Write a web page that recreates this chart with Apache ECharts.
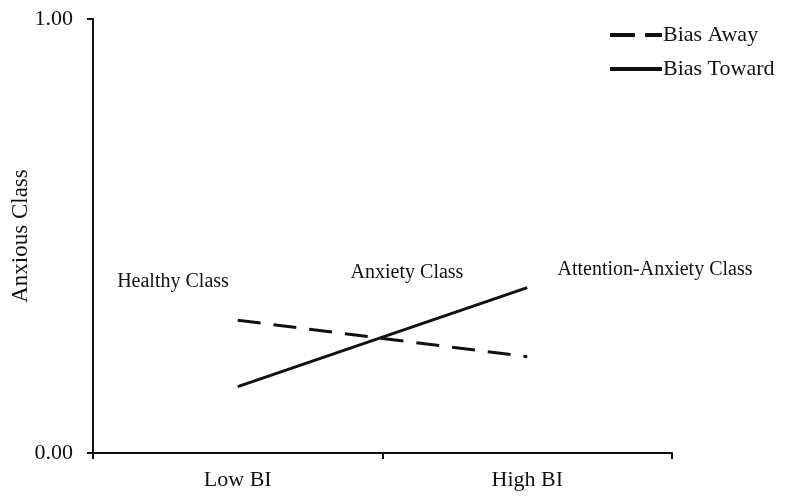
<!DOCTYPE html>
<html>
<head>
<meta charset="utf-8">
<script src="https://cdn.jsdelivr.net/npm/echarts@6/dist/echarts.min.js"></script>
<style>
  html, body { margin: 0; padding: 0; background: #fff; }
  #chart { width: 794px; height: 500px; }
</style>
</head>
<body>
<div id="chart"></div>
<script>
// data
const categories = ['Low BI', 'High BI'];
const biasAway = [0.306, 0.222];
const biasToward = [0.153, 0.381];
const yTicks = [0, 1];
// annotation text: [label, x px, y px]
const notes = [
  ['Healthy Class', 173, 282],
  ['Anxiety Class', 407, 273],
  ['Attention-Anxiety Class', 655, 270]
];

const FONT = '"Liberation Serif", "DejaVu Serif", serif';
const ink = '#111';

// legend swatches: dashed and solid strokes
const dashIcon = 'path://M0,0H25V4H0Z M35,0H52V4H35Z';
const solidIcon = 'path://M0,0H52V4H0Z';

const chart = echarts.init(document.getElementById('chart'));

chart.setOption({
  backgroundColor: '#fff',
  animation: false,
  textStyle: { fontFamily: FONT, color: ink },
  grid: { left: 93, right: 122, top: 19, bottom: 47, containLabel: false, outerBoundsMode: 'none' },
  legend: {
    orient: 'vertical',
    left: 605,
    top: 19,
    itemWidth: 52,
    itemHeight: 4,
    itemGap: 12,
    symbolKeepAspect: false,
    data: [
      { name: 'Bias Away', icon: dashIcon },
      { name: 'Bias Toward', icon: solidIcon }
    ],
    textStyle: { fontFamily: FONT, fontSize: 22, color: ink, padding: [0, 0, 0, -4] }
  },
  xAxis: {
    type: 'category',
    data: categories,
    boundaryGap: true,
    axisLine: { lineStyle: { color: ink, width: 2 } },
    axisTick: { show: true, length: 6, inside: false, lineStyle: { color: ink, width: 2 } },
    axisLabel: { fontFamily: FONT, fontSize: 22, color: ink, margin: 16 },
    splitLine: { show: false }
  },
  yAxis: {
    type: 'value',
    min: yTicks[0],
    max: yTicks[yTicks.length - 1],
    interval: 1,
    name: 'Anxious Class',
    nameLocation: 'middle',
    nameGap: 61,
    nameMoveOverlap: false,
    nameTextStyle: { fontFamily: FONT, fontSize: 23, color: ink },
    axisLine: { show: true, lineStyle: { color: ink, width: 2 } },
    axisTick: { show: true, length: 6, lineStyle: { color: ink, width: 2 } },
    axisLabel: {
      fontFamily: FONT, fontSize: 22, color: ink, margin: 20,
      formatter: v => v.toFixed(2)
    },
    splitLine: { show: false }
  },
  series: [
    {
      name: 'Bias Away',
      type: 'line',
      data: biasAway,
      symbol: 'none',
      lineStyle: { color: ink, width: 3, type: [23, 13] },
      itemStyle: { color: ink }
    },
    {
      name: 'Bias Toward',
      type: 'line',
      data: biasToward,
      symbol: 'none',
      lineStyle: { color: ink, width: 3, type: 'solid' },
      itemStyle: { color: ink }
    }
  ],
  graphic: notes.map(n => ({
    type: 'text',
    x: n[1],
    y: n[2],
    style: {
      text: n[0],
      fontFamily: FONT,
      fontSize: 20,
      fill: ink,
      align: 'center',
      verticalAlign: 'middle'
    }
  }))
});
</script>
</body>
</html>
